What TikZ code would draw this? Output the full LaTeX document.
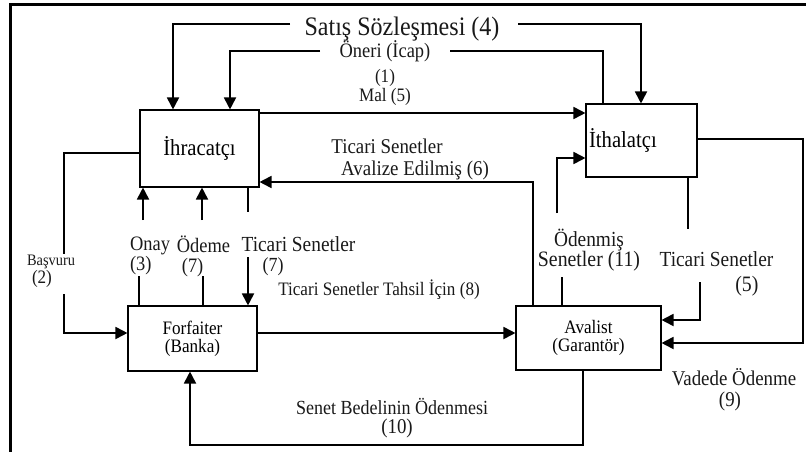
\documentclass[tikz,border=0pt]{standalone}
\usepackage{fontspec}
\setmainfont{Liberation Serif}[FakeStretch=0.9]
\usetikzlibrary{arrows.meta}
\newcommand\fsz[1]{\fontsize{#1}{#1}\selectfont}
\newcommand\fszb[2]{\fontsize{#1}{#2}\selectfont}
\begin{document}
\begin{tikzpicture}[x=1pt,y=-1pt,
  box/.style={draw, line width=1.1pt, inner sep=0pt, align=center},
  lbl/.style={inner sep=0pt, text=black!90},
  thin/.style={line width=1.2pt},
  arr/.style={line width=1.8pt, -{Triangle[length=12pt,width=12pt]}},
  frame/.style={line width=3pt}]
\useasboundingbox (0,0) rectangle (806,452);
\draw[frame] (10,452) -- (10,5) -- (806,5);

% boxes
\node[box, minimum width=119pt, minimum height=77pt, font=\fsz{23}] (ihr) at (199.5,148.5) {İhracatçı};
\node[box, minimum width=111pt, minimum height=73pt, text width=105pt, align=left, inner xsep=3pt, font=\fsz{23}] (ith) at (641.5,140.5) {İthalatçı};
\node[box, minimum width=129pt, minimum height=65pt, font=\fszb{19}{18}] (forf) at (192.5,338.5) {Forfaiter\\(Banka)};
\node[box, minimum width=145pt, minimum height=64pt, font=\fszb{19}{18}] (aval) at (588.5,338) {Avalist\\(Garantör)};

% labels
\node[lbl, font=\fsz{26.7}] (l4) at (402,29) {Satış Sözleşmesi (4)};
\node[lbl, align=center, font=\fszb{20.5}{25}] (l1) at (385,63.5) {Öneri (İcap)\\{\fsz{19}(1)}};
\node[lbl, font=\fsz{19}] (l5) at (385,97) {Mal (5)};
\node[lbl, font=\fsz{21}] (l6a) at (387,146.5) {Ticari Senetler};
\node[lbl, font=\fsz{21}] (l6b) at (415,170) {Avalize Edilmiş (6)};
\node[lbl, align=left, font=\fszb{16}{16}] (l2) at (51,271) {Başvuru\\\hspace*{5pt}{\fsz{19}(2)}};
\node[lbl, align=left, font=\fszb{20.5}{20}] (l3) at (150,256) {Onay\\(3)};
\node[lbl, align=left, font=\fszb{20.5}{20}] (l7) at (203.5,256) {Ödeme\\\hspace*{5pt}(7)};
\node[lbl, align=left, font=\fszb{21.5}{20}] (l7t) at (298.5,256) {Ticari Senetler\\\hspace*{21pt}{\fsz{20}(7)}};
\node[lbl, font=\fsz{19}] (l8) at (379,290) {Ticari Senetler Tahsil İçin (8)};
\node[lbl, align=center, font=\fszb{20}{19}] (l10) at (392,418) {Senet Bedelinin Ödenmesi\\\hspace*{10pt}{\fsz{21}(10)}};
\node[lbl, align=center, font=\fszb{21.5}{20}] (l11) at (589,250) {Ödenmiş\\{\fsz{22}Senetler (11)}};
\node[lbl, align=right, font=\fszb{21.5}{25}] (l5t) at (716.5,273.5) {Ticari Senetler\\{\fsz{22}(5)}\hspace*{15pt}};
\node[lbl, align=center, font=\fszb{21}{21}] (l9) at (734,390) {Vadede Ödenme\\(9)\hspace*{8pt}};

% free ends
\coordinate (s4l) at (290,24);
\coordinate (s4r) at (518,24);
\coordinate (o1l) at (320,51);
\coordinate (o1r) at (450,51);
\coordinate (b2a) at (64,254);
\coordinate (b2b) at (64,294);
\coordinate (on1) at (139,276);
\coordinate (on2) at (143,220);
\coordinate (od1) at (203,276);
\coordinate (od2) at (202,220);
\coordinate (t7a) at (248,212);
\coordinate (t7b) at (248,257);
\coordinate (p11a) at (562,277);
\coordinate (p11b) at (557,213);
\coordinate (t5a) at (688,229);
\coordinate (t5b) at (700,282);

% connectors
\draw[arr] (s4l) -| (173,0 |- ihr.north);
\draw[arr] (s4r) -| (641,0 |- ith.north);
\draw[arr] (o1l) -| (230,0 |- ihr.north);
\draw[thin] (o1r) -| (603,0 |- ith.north);
\draw[arr] (ihr.east |- 0,113) -- (ith.west |- 0,113);
\draw[arr] (533,0 |- aval.north) |- (ihr.east |- 0,182);
\draw[thin] (562,0 |- aval.north) -- (p11a);
\draw[arr] (p11b) |- (ith.west |- 0,158);
\draw[thin] (688,0 |- ith.south) -- (t5a);
\draw[arr] (t5b) |- (aval.east |- 0,320);
\draw[arr] (ith.east |- 0,139) -| (803,343) -- (aval.east |- 0,343);
\draw[thin] (ihr.west |- 0,153) -| (b2a);
\draw[arr] (b2b) |- (forf.west |- 0,333);
\draw[thin] (139,0 |- forf.north) -- (on1);
\draw[arr] (on2) -- (143,0 |- ihr.south);
\draw[thin] (203,0 |- forf.north) -- (od1);
\draw[arr] (od2) -- (202,0 |- ihr.south);
\draw[thin] (248,0 |- ihr.south) -- (t7a);
\draw[arr] (t7b) -- (248,0 |- forf.north);
\draw[arr] (forf.east |- 0,333) -- (aval.west |- 0,333);
\draw[arr] (583,0 |- aval.south) |- (190,445) -- (190,0 |- forf.south);
\end{tikzpicture}
\end{document}
